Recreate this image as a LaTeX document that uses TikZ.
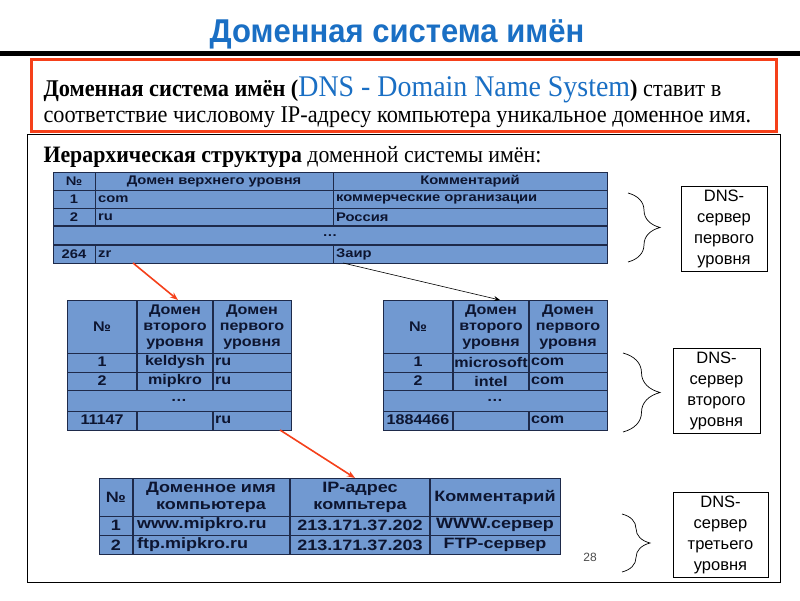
\documentclass[tikz,border=0pt]{standalone}
\usepackage{fontspec}
\setmainfont{Liberation Serif}
\setsansfont{Liberation Sans}
\newfontfamily\slidefont[FakeStretch=0.93]{Liberation Serif}
\newfontfamily\headfont[FakeStretch=0.94]{Liberation Sans}
\newfontfamily\cellfont[FakeStretch=1.18]{Liberation Sans}
\newfontfamily\midfont[FakeStretch=1.15]{Liberation Sans}
\newfontfamily\hostfont[FakeStretch=1.2]{Liberation Sans}
\usetikzlibrary{arrows.meta,decorations.pathreplacing}

\definecolor{titleblue}{HTML}{1A6FC4}
\definecolor{framered}{HTML}{F5401A}
\definecolor{cellblue}{HTML}{7199D1}
\definecolor{gridnavy}{HTML}{1E2A4A}
\definecolor{cellink}{HTML}{0D1530}

\tikzset{
  gridline/.style={draw=gridnavy, line width=0.9pt},
  heavyline/.style={draw=gridnavy, line width=1.8pt},
  tabcell/.style={font=\cellfont\bfseries\fontsize{12.5}{13}\selectfont, text=cellink, inner sep=0pt},
  midcell/.style={tabcell, font=\midfont\bfseries\fontsize{14}{16}\selectfont, align=center},
  hostcell/.style={tabcell, font=\hostfont\bfseries\fontsize{15}{17}\selectfont, align=center},
  dnsbox/.style={draw, line width=0.8pt, font=\sffamily\fontsize{16.5}{21}\selectfont, align=center, inner sep=0pt, minimum height=85pt},
  redlink/.style={-{Stealth[length=8pt,width=6pt]}, draw=framered, line width=1.6pt},
  blacklink/.style={-{Stealth[length=6pt,width=5pt]}, line width=0.6pt},
  levelbrace/.style={decorate, decoration={brace, amplitude=#1}, line width=0.7pt},
}

\begin{document}
\begin{tikzpicture}[x=1pt, y=-1pt]
    \useasboundingbox (0,0) rectangle (800,600);
    \fill[white] (0,0) rectangle (800,600);

    % Title and rule
    \node[anchor=base, text=titleblue, font=\headfont\bfseries\fontsize{33}{35}\selectfont] (title) at (397,42) {Доменная система имён};
    \fill (0,51) rectangle (800,56);

    % Definition box
    \draw[framered, line width=3pt] (31,59) rectangle (776,131);
    \node[anchor=base west, font=\slidefont\fontsize{24}{26}\selectfont] (intro1) at (40,96)
        {\textbf{Доменная система имён (}{\color{titleblue}\fontsize{30}{30}\selectfont DNS - Domain Name System}\textbf{)} ставит в};
    \node[anchor=base west, font=\slidefont\fontsize{24}{26}\selectfont] (intro2) at (40,122)
        {соответствие числовому IP-адресу компьютера уникальное доменное имя.};

    % Frame
    \draw[line width=0.8pt] (27,134) rectangle (780,582);
    \node[anchor=base west, font=\slidefont\fontsize{23.5}{26}\selectfont] (hier) at (40,162)
        {\textbf{Иерархическая структура} доменной системы имён:};

    % Top-level domains
    \fill[cellblue] (53,172) rectangle (607,263);
    \draw[gridline] (53,172) rectangle (607,263);
    \draw[gridline] (53,190) -- (607,190) (53,208) -- (607,208);
    \draw[heavyline] (53,226) -- (607,226) (53,245) -- (607,245);
    \draw[gridline] (95,172) -- (95,226) (95,245) -- (95,263);
    \draw[gridline] (333,172) -- (333,226) (333,245) -- (333,263);
    \node[tabcell] (tn) at (74,181) {№};
    \node[tabcell] (td) at (214,181) {Домен верхнего уровня};
    \node[tabcell] (tc) at (470,181) {Комментарий};
    \foreach \y/\n/\d/\c [count=\i] in {199/1/com/коммерческие организации, 217/2/ru/Россия, 254/264/zr/Заир} {
        \node[tabcell] (tn\i) at (74,\y) {\n};
        \node[tabcell, anchor=west] (td\i) at (98,\y) {\d};
        \node[tabcell, anchor=west] (tc\i) at (336,\y) {\c};
    }
    \node[tabcell] (tdots) at (330,236) {…};

    % Second-level domains
    \foreach \x [count=\k] in {67, 383} {
        \fill[cellblue] (\x,300) rectangle (\x+224,430);
        \draw[gridline] (\x,300) rectangle (\x+224,430);
        \draw[gridline] (\x,353) -- (\x+224,353) (\x,372) -- (\x+224,372)
            (\x,390) -- (\x+224,390) (\x,411) -- (\x+224,411);
        \draw[heavyline] (\x+70,300) -- (\x+70,390) (\x+70,411) -- (\x+70,430);
        \draw[heavyline] (\x+146,300) -- (\x+146,390) (\x+146,411) -- (\x+146,430);
        \node[midcell] (sn\k) at (\x+35,327) {№};
        \node[midcell] (ss\k) at (\x+108,327) {Домен\\второго\\уровня};
        \node[midcell] (sf\k) at (\x+185,327) {Домен\\первого\\уровня};
        \node[midcell] (sdots\k) at (\x+112,400) {…};
    }
    \foreach \y/\n/\a/\b/\c/\d [count=\i] in {362/1/keldysh/ru/microsoft/com, 381/2/mipkro/ru/intel/com, 420/11147//ru/1884466/com} {
        \node[midcell] (la\i) at (102,\y) {\n};
        \node[midcell] (lb\i) at (175,\y) {\a};
        \node[midcell, anchor=west] (lc\i) at (215,\y) {\b};
        \node[midcell] (ra\i) at (418,\y) {\ifnum\i=3 \c\else\n\fi};
        \node[midcell] (rb\i) at (491,\y) {\ifnum\i=3 \else\c\fi};
        \node[midcell, anchor=west] (rc\i) at (531,\y) {\d};
    }

    % Host names
    \fill[cellblue] (99,478) rectangle (560,554);
    \draw[gridline] (99,478) rectangle (560,554);
    \draw[gridline] (99,516) -- (560,516) (99,535) -- (560,535);
    \draw[heavyline] (133,478) -- (133,554) (290,478) -- (290,554) (430,478) -- (430,554);
    \node[hostcell] (hn) at (116,497) {№};
    \node[hostcell] (hd) at (211,497) {Доменное имя\\компьютера};
    \node[hostcell] (hi) at (360,497) {IP-адрес\\компьтера};
    \node[hostcell] (hc) at (495,497) {Комментарий};
    \foreach \y/\n/\d/\p/\c [count=\i] in {525/1/www.mipkro.ru/213.171.37.202/WWW.сервер, 545/2/ftp.mipkro.ru/213.171.37.203/FTP-сервер} {
        \node[hostcell] (hn\i) at (116,\y) {\n};
        \node[hostcell, anchor=west] (hd\i) at (137,\y) {\d};
        \node[hostcell] (hi\i) at (360,\y) {\p};
        \node[hostcell] (hc\i) at (495,\y) {\c};
    }
    \node[font=\sffamily\fontsize{12}{12}\selectfont, text=black!70] (page) at (590,557) {28};

    % Arrows
    \coordinate (zr) at (133,263);
    \coordinate (ruhead) at (178,300);
    \coordinate (zair) at (343,263);
    \coordinate (comhead) at (500,300);
    \coordinate (mipkro) at (280,430);
    \coordinate (iphead) at (355,478);
    \draw[redlink] (zr) -- (ruhead);
    \draw[blacklink] (zair) -- (comhead);
    \draw[redlink] (mipkro) -- (iphead);

    % Braces and servers
    \draw[levelbrace=32pt] (628,193) -- (628,262);
    \draw[levelbrace=37pt] (623,353) -- (623,432);
    \draw[levelbrace=28pt] (622,514) -- (622,572);
    \node[dnsbox, minimum width=86pt] (srv1) at (724,228.5) {DNS-\\сервер\\первого\\уровня};
    \node[dnsbox, minimum width=87pt] (srv2) at (716.5,391) {DNS-\\сервер\\второго\\уровня};
    \node[dnsbox, minimum width=95pt] (srv3) at (720.5,535) {DNS-\\сервер\\третьего\\уровня};
\end{tikzpicture}
\end{document}
